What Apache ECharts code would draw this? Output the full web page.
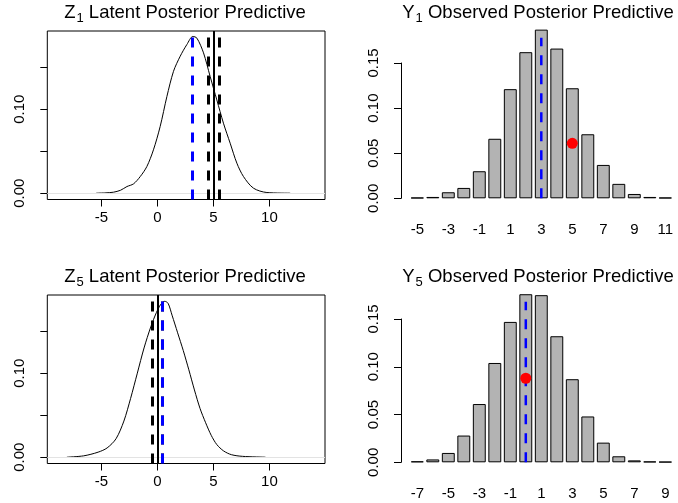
<!DOCTYPE html>
<html>
<head>
<meta charset="utf-8">
<script src="https://cdn.jsdelivr.net/npm/echarts@6/dist/echarts.min.js"></script>
<style>
  html, body { margin: 0; padding: 0; background: #fff; }
  #chart { width: 678px; height: 503px; }
</style>
</head>
<body>
<div id="chart"></div>
<script>
// Z1 latent posterior predictive density
var z1X = [-5.47, -4.6, -3.93, -3.3, -2.73, -2.14, -1.54, -0.95, -0.36, 0.24, 0.84, 1.43, 2.03, 2.63, 3.16, 3.52, 4.11, 4.7, 5.3, 5.89, 6.49, 7.09, 7.68, 8.57, 9.77, 11.85];
var z1Dens = [0, 0.0004, 0.0012, 0.0035, 0.0079, 0.0111, 0.0198, 0.0317, 0.0516, 0.0794, 0.115, 0.145, 0.163, 0.177, 0.1865, 0.1845, 0.167, 0.139, 0.111, 0.0833, 0.0595, 0.0357, 0.0198, 0.006, 0.0008, 0];
var z1Obs = 5.0;
var z1Interval = [4.5, 5.55];
var z1Mean = 3.13;

// Z5 latent posterior predictive density
var z5X = [-8.09, -6.6, -5.3, -4.5, -3.7, -3.0, -2.4, -1.8, -1.2, -0.6, -0.1, 0.3, 0.65, 0.95, 1.3, 1.8, 2.3, 2.8, 3.3, 3.8, 4.3, 4.8, 5.3, 5.9, 6.6, 7.6, 9.64];
var z5Dens = [0, 0.0016, 0.006, 0.011, 0.022, 0.043, 0.07, 0.1, 0.13, 0.155, 0.172, 0.182, 0.1855, 0.183, 0.169, 0.148, 0.127, 0.104, 0.08, 0.058, 0.041, 0.026, 0.015, 0.0075, 0.003, 0.001, 0];
var z5Obs = 0;
var z5Interval = [-0.5, 0.45];
var z5Mean = 0.42;

// Y1 observed posterior predictive
var y1Cats = ['-5', '-4', '-3', '-2', '-1', '0', '1', '2', '3', '4', '5', '6', '7', '8', '9', '10', '11'];
var y1Prob = [0.0007, 0.0015, 0.0067, 0.0115, 0.030, 0.066, 0.121, 0.162, 0.187, 0.166, 0.122, 0.071, 0.037, 0.016, 0.0048, 0.0015, 0.0007];
var y1Mean = ['3', 0.178];
var y1Obs = ['5', 0.061];

// Y5 observed posterior predictive
var y5Cats = ['-7', '-6', '-5', '-4', '-3', '-2', '-1', '0', '1', '2', '3', '4', '5', '6', '7', '8', '9'];
var y5Prob = [0.001, 0.003, 0.0098, 0.028, 0.061, 0.104, 0.147, 0.176, 0.175, 0.132, 0.087, 0.048, 0.0206, 0.0063, 0.002, 0.0008, 0.0005];
var y5Mean = ['0', 0.168];
var y5Obs = ['0', 0.088];

var densXTicks = [-5, 0, 5, 10];
var densYTicks = [0, 0.05, 0.1, 0.15];
var densYLabels = [0, 0.1];

var font = "'Liberation Sans', Arial, sans-serif";
var labelSize = 15;
var chart = echarts.init(document.getElementById('chart'));

function pairs(xs, ys) {
  return xs.map(function (x, i) { return [x, ys[i]]; });
}
function fmt2(v) { return v.toFixed(2); }

function title(sym, sub, rest, cx, top) {
  return {
    text: '{m|' + sym + '}{s|' + sub + '}{m| ' + rest + '}',
    left: cx, top: top, textAlign: 'center', padding: 0,
    textStyle: {
      fontWeight: 'normal',
      rich: {
        m: { fontSize: 18.5, fontFamily: font, fontWeight: 'normal', color: '#000' },
        s: { fontSize: 13, fontFamily: font, fontWeight: 'normal', color: '#000', padding: [11, 0, 0, 1] }
      }
    }
  };
}

function densXAxis(gi) {
  return {
    gridIndex: gi, type: 'value', min: -9.84, max: 14.96,
    axisLine: { show: false, onZero: false },
    axisTick: { show: true, customValues: densXTicks, length: 7, lineStyle: { color: '#000' } },
    axisLabel: { customValues: densXTicks, margin: 11, fontSize: labelSize, fontFamily: font, color: '#000' },
    splitLine: { show: false }
  };
}
function densYAxis(gi) {
  return {
    gridIndex: gi, type: 'value', min: -0.0075, max: 0.193,
    axisLine: { show: false, onZero: false },
    axisTick: { show: true, customValues: densYTicks, length: 7, lineStyle: { color: '#000' } },
    axisLabel: { customValues: densYLabels, rotate: 90, margin: 20, fontSize: labelSize, fontFamily: font, color: '#000', formatter: fmt2 },
    splitLine: { show: false }
  };
}
function barXAxis(gi, cats) {
  return {
    gridIndex: gi, type: 'category', data: cats,
    axisLine: { show: false, onZero: false }, axisTick: { show: false },
    axisLabel: { interval: 1, margin: 24, fontSize: labelSize, fontFamily: font, color: '#000' }
  };
}
function barYAxis(gi) {
  return { gridIndex: gi, type: 'value', min: 0, max: 0.2, show: false };
}
function sideXAxis(gi) {
  return { gridIndex: gi, type: 'value', min: 0, max: 1, show: false };
}
function sideYAxis(gi) {
  return {
    gridIndex: gi, type: 'value', min: 0, max: 0.15, interval: 0.05,
    axisLine: { show: true, onZero: false, lineStyle: { color: '#000', width: 1 } },
    axisTick: { show: true, length: 7, lineStyle: { color: '#000' } },
    axisLabel: { rotate: 90, margin: 20, fontSize: labelSize, fontFamily: font, color: '#000', formatter: fmt2 },
    splitLine: { show: false }
  };
}

function densSeries(gi, xs, ys, obs, ci, mean) {
  var dash = { width: 3, type: [10, 9], color: '#000' };
  return {
    type: 'line', xAxisIndex: gi, yAxisIndex: gi,
    data: pairs(xs, ys), showSymbol: false, smooth: 0.3,
    lineStyle: { color: '#000', width: 1 },
    markLine: {
      silent: true, symbol: 'none', label: { show: false },
      data: [
        { yAxis: 0, lineStyle: { color: '#e3e3e3', width: 1, type: 'solid' } },
        { xAxis: ci[0], lineStyle: dash },
        { xAxis: ci[1], lineStyle: dash },
        { xAxis: obs, lineStyle: { color: '#000', width: 2, type: 'solid' } },
        { xAxis: mean, lineStyle: { color: '#0000ff', width: 3, type: [10, 9] } }
      ]
    }
  };
}
function barSeries(gi, probs, mean, obs) {
  return [
    {
      type: 'bar', xAxisIndex: gi, yAxisIndex: gi, data: probs, barWidth: '83.3%',
      itemStyle: { color: '#b3b3b3', borderColor: '#000', borderWidth: 1 }
    },
    {
      type: 'line', xAxisIndex: gi, yAxisIndex: gi, showSymbol: false,
      data: [[mean[0], 0], mean],
      lineStyle: { color: '#0000ff', width: 2.5, type: [10, 9] }
    },
    {
      type: 'scatter', xAxisIndex: gi, yAxisIndex: gi, data: [obs],
      symbolSize: 11, itemStyle: { color: '#ff0000', opacity: 1 }, z: 5
    }
  ];
}

chart.setOption({
  animation: false,
  backgroundColor: '#fff',
  title: [
    title('Z', '1', 'Latent Posterior Predictive', 185, 1),
    title('Y', '1', 'Observed Posterior Predictive', 538, 1),
    title('Z', '5', 'Latent Posterior Predictive', 185, 265),
    title('Y', '5', 'Observed Posterior Predictive', 538, 265)
  ],
  grid: [
    { left: 47.3, top: 31, width: 277.7, height: 168.5, show: true, borderColor: '#000', borderWidth: 1, backgroundColor: 'transparent' },
    { left: 409.55, top: 17.9, width: 263.5, height: 180.4 },
    { left: 401, top: 63, width: 10, height: 135.3 },
    { left: 47.3, top: 295, width: 277.7, height: 168.5, show: true, borderColor: '#000', borderWidth: 1, backgroundColor: 'transparent' },
    { left: 409.55, top: 271.3, width: 263.5, height: 191 },
    { left: 401, top: 319, width: 10, height: 143.3 }
  ],
  xAxis: [densXAxis(0), barXAxis(1, y1Cats), sideXAxis(2), densXAxis(3), barXAxis(4, y5Cats), sideXAxis(5)],
  yAxis: [densYAxis(0), barYAxis(1), sideYAxis(2), densYAxis(3), barYAxis(4), sideYAxis(5)],
  series: [densSeries(0, z1X, z1Dens, z1Obs, z1Interval, z1Mean)]
    .concat(barSeries(1, y1Prob, y1Mean, y1Obs))
    .concat([densSeries(3, z5X, z5Dens, z5Obs, z5Interval, z5Mean)])
    .concat(barSeries(4, y5Prob, y5Mean, y5Obs))
});

window.addEventListener('resize', function () { chart.resize(); });
</script>
</body>
</html>
